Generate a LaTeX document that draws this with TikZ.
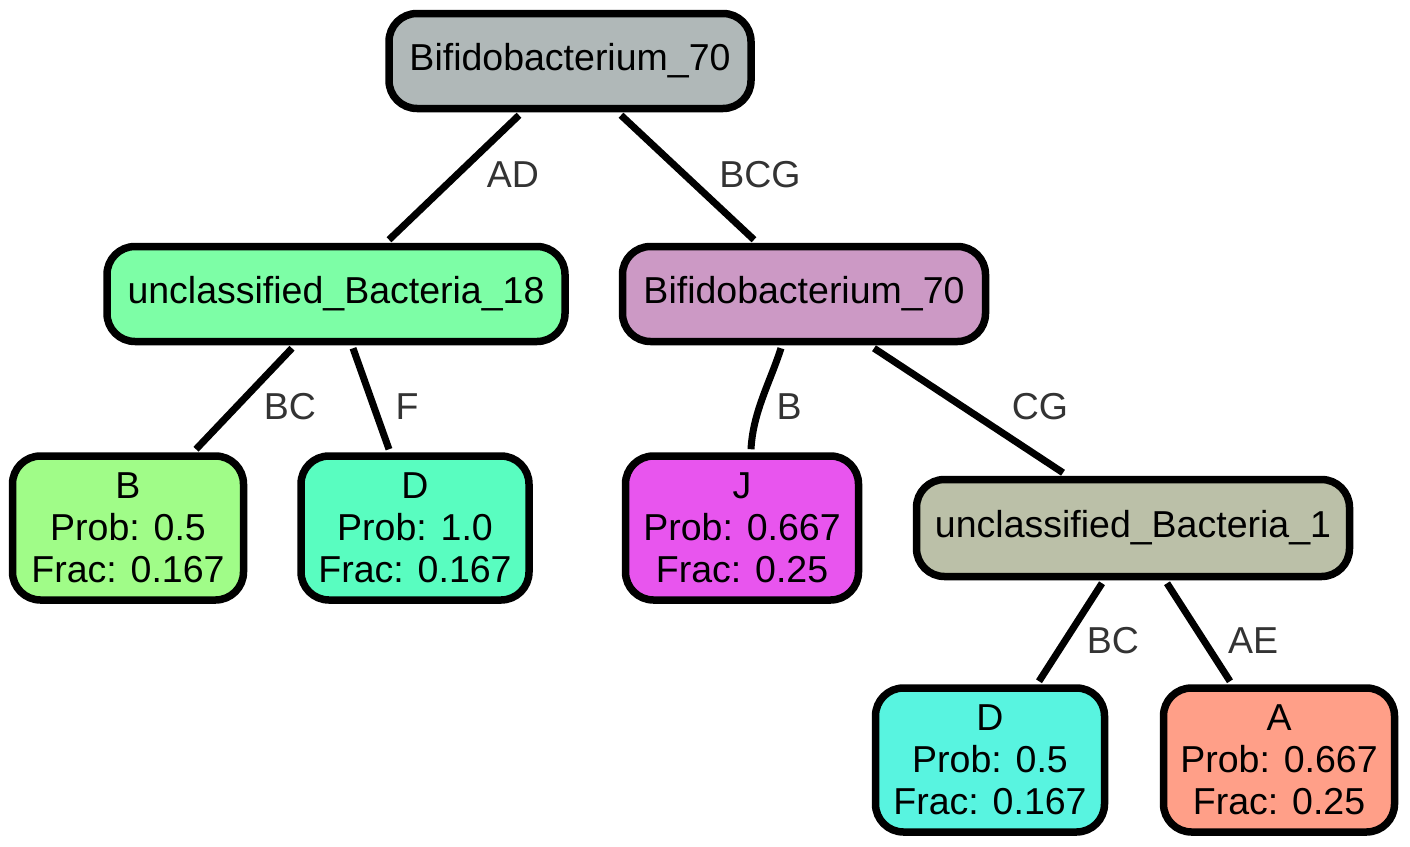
\documentclass[tikz,border=0pt]{standalone}
\usepackage{fontspec}
\setmainfont{Liberation Sans}
\definecolor{cRoot}{RGB}{176,184,184}
\definecolor{cUBa}{RGB}{125,254,166}
\definecolor{cBif}{RGB}{204,153,197}
\definecolor{cB}{RGB}{160,252,136}
\definecolor{cD}{RGB}{89,253,192}
\definecolor{cJ}{RGB}{232,85,238}
\definecolor{cUBb}{RGB}{187,192,168}
\definecolor{cDb}{RGB}{88,244,224}
\definecolor{cA}{RGB}{255,159,136}
\definecolor{labgray}{RGB}{51,51,51}
\begin{document}
\begin{tikzpicture}[x=1pt,y=-1pt,
    box/.style={draw=black, line width=7.5pt, rounded corners=28pt, align=center,
      inner sep=0pt, font=\fontsize{37.5}{42}\selectfont},
    edge/.style={line width=7pt},
    elabel/.style={text=labgray, font=\fontsize{37.5}{42}\selectfont}]
    \useasboundingbox (0,0) rectangle (1410,846);

    % Inner nodes
    \node[box, fill=cRoot, minimum width=362pt, minimum height=95pt] (root) at (570,61) {Bifidobacterium\_70};
    \node[box, fill=cUBa, minimum width=458pt, minimum height=95pt] (ub18) at (336,294) {unclassified\_Bacteria\_18};
    \node[box, fill=cBif, minimum width=363pt, minimum height=95pt] (bif) at (804,294) {Bifidobacterium\_70};
    \node[box, fill=cUBb, minimum width=433pt, minimum height=97pt] (ub1) at (1133,528) {unclassified\_Bacteria\_1};

    % Leaves
    \node[box, fill=cB, minimum width=231pt, minimum height=144pt] (leafB) at (128,528) {B\\Prob: 0.5\\Frac: 0.167};
    \node[box, fill=cD, minimum width=228pt, minimum height=144pt] (leafD) at (415,528) {D\\Prob: 1.0\\Frac: 0.167};
    \node[box, fill=cJ, minimum width=233pt, minimum height=144pt] (leafJ) at (742,528) {J\\Prob: 0.667\\Frac: 0.25};
    \node[box, fill=cDb, minimum width=229pt, minimum height=144pt] (leafDb) at (990,760) {D\\Prob: 0.5\\Frac: 0.167};
    \node[box, fill=cA, minimum width=231pt, minimum height=144pt] (leafA) at (1279,760) {A\\Prob: 0.667\\Frac: 0.25};

    % Edges
    \draw[edge] ([xshift=-51pt,yshift=-3pt]root.south) -- ([xshift=53pt,yshift=3pt]ub18.north);
    \draw[edge] ([xshift=51pt,yshift=-3pt]root.south) -- ([xshift=-50pt,yshift=3pt]bif.north);
    \draw[edge] ([xshift=-44pt,yshift=-3pt]ub18.south) -- ([xshift=68pt,yshift=3pt]leafB.north);
    \draw[edge] ([xshift=17pt,yshift=-3pt]ub18.south) -- ([xshift=-26pt,yshift=3pt]leafD.north);
    \draw[edge] ([xshift=-23pt,yshift=-3pt]bif.south) to[out=-108,in=87,looseness=0.9] ([xshift=9pt,yshift=3pt]leafJ.north);
    \draw[edge] ([xshift=70pt,yshift=-3pt]bif.south) -- ([xshift=-70pt,yshift=3pt]ub1.north);
    \draw[edge] ([xshift=-31pt,yshift=-3pt]ub1.south) -- ([xshift=49pt,yshift=3pt]leafDb.north);
    \draw[edge] ([xshift=34pt,yshift=-3pt]ub1.south) -- ([xshift=-49pt,yshift=3pt]leafA.north);

    % Edge labels
    \node[elabel] (lAD) at (513,175) {AD};
    \node[elabel] (lBCG) at (760,175) {BCG};
    \node[elabel] (lBCa) at (290,407) {BC};
    \node[elabel] (lF) at (407,407) {F};
    \node[elabel] (lB) at (789,407) {B};
    \node[elabel] (lCG) at (1040,407) {CG};
    \node[elabel] (lBCb) at (1113,641) {BC};
    \node[elabel] (lAE) at (1253,641) {AE};
\end{tikzpicture}
\end{document}
